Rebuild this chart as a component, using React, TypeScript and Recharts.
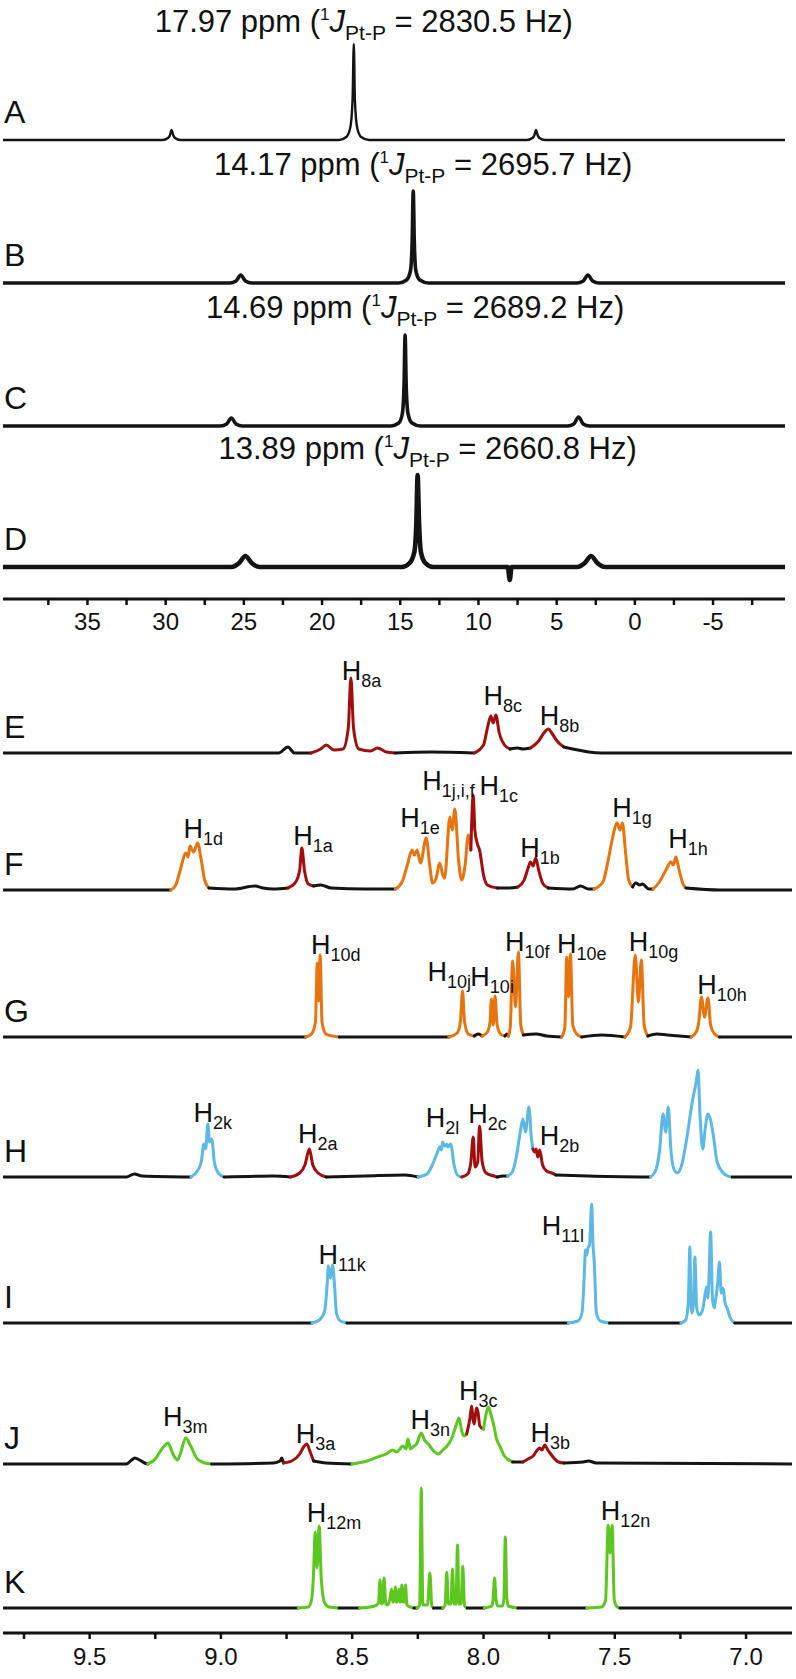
import React from 'react';
import { LineChart, Line, XAxis, YAxis, ReferenceDot } from 'recharts';

type P = [number, number, string?];

const FONT = '"Liberation Sans", Arial, Helvetica, sans-serif';

const COLORS: Record<string, string> = {
  k: '#141414',
  r: '#a10e0e',
  o: '#e8740f',
  b: '#5cb8e4',
  g: '#5dc61f',
};

// 31P spectra (ppm, intensity)
const SPEC_A: P[] = [[40.4,0],[30.2,0],[29.85,2],[29.72,5],[29.62,10],[29.52,5],[29.4,2],[29.05,0],[18.9,0],[18.45,3],[18.2,12],[18.05,40],[17.97,96],[17.9,40],[17.75,12],[17.5,3],[17.0,0],[6.9,0],[6.55,2],[6.42,5],[6.32,10],[6.22,5],[6.1,2],[5.75,0],[-9.6,0]];
const SPEC_B: P[] = [[40.4,0],[25.9,0],[25.5,2],[25.2,8],[24.9,2],[24.5,0],[15.1,0],[14.6,3],[14.35,12],[14.24,40],[14.17,92],[14.1,40],[14.0,12],[13.75,3],[13.2,0],[3.7,0],[3.3,2],[3.0,8],[2.7,2],[2.3,0],[-9.6,0]];
const SPEC_C: P[] = [[40.4,0],[26.5,0],[26.1,2],[25.8,8],[25.5,2],[25.1,0],[15.6,0],[15.1,3],[14.87,12],[14.76,40],[14.69,91],[14.62,40],[14.5,12],[14.25,3],[13.7,0],[4.3,0],[3.9,2],[3.6,9],[3.3,2],[2.9,0],[-9.6,0]];
const SPEC_D: P[] = [[40.4,0],[25.8,0],[25.3,4],[24.9,11],[24.5,4],[24.0,0],[14.9,0],[14.4,4],[14.1,15],[13.97,45],[13.89,92],[13.8,45],[13.68,15],[13.4,4],[12.9,0],[8.12,0],[8.0,-13],[7.88,0],[3.7,0],[3.2,4],[2.8,11],[2.4,4],[1.9,0],[-9.6,0]];

// 1H spectra (ppm, intensity, colour)
const SPEC_E: P[] = [[9.83,0,'k'],[8.78,0,'k'],[8.745,6,'k'],[8.72,0,'k'],[8.657,0,'r'],[8.62,4,'r'],[8.599,8,'r'],[8.57,3,'r'],[8.535,4,'r'],[8.515,25,'r'],[8.505,75,'r'],[8.495,25,'r'],[8.475,4,'r'],[8.43,2,'r'],[8.404,5,'r'],[8.37,1,'r'],[8.337,0,'k'],[8.2,1,'k'],[8.035,0,'r'],[8.0,8,'r'],[7.985,25,'r'],[7.972,37,'r'],[7.963,30,'r'],[7.953,38,'r'],[7.94,20,'r'],[7.92,8,'r'],[7.899,4,'k'],[7.87,5,'k'],[7.85,4,'k'],[7.821,5,'r'],[7.79,12,'r'],[7.77,20,'r'],[7.753,24,'r'],[7.74,20,'r'],[7.72,12,'r'],[7.694,6,'k'],[7.66,4,'k'],[7.6,1,'k'],[7.55,0,'k'],[6.825,0,'k']];
const SPEC_F: P[] = [[9.83,0,'k'],[9.191,0,'o'],[9.172,5,'o'],[9.155,20,'o'],[9.133,37,'o'],[9.125,33,'o'],[9.118,44,'o'],[9.104,38,'o'],[9.089,47,'o'],[9.075,30,'o'],[9.062,10,'o'],[9.046,2,'k'],[8.95,1,'k'],[8.87,4,'k'],[8.84,2,'k'],[8.8,1,'k'],[8.745,2,'r'],[8.715,8,'r'],[8.7,20,'r'],[8.692,42,'r'],[8.682,20,'r'],[8.667,6,'r'],[8.647,4,'k'],[8.62,5,'k'],[8.58,2,'k'],[8.45,1,'k'],[8.336,1,'o'],[8.31,8,'o'],[8.29,25,'o'],[8.272,40,'o'],[8.263,35,'o'],[8.253,40,'o'],[8.24,27,'o'],[8.218,52,'o'],[8.205,25,'o'],[8.194,7,'o'],[8.18,12,'o'],[8.167,27,'o'],[8.155,15,'o'],[8.148,12,'o'],[8.128,73,'o'],[8.119,60,'o'],[8.109,81,'o'],[8.095,30,'o'],[8.083,10,'o'],[8.07,25,'o'],[8.058,55,'o'],[8.048,40,'r'],[8.039,95,'r'],[8.033,60,'r'],[8.022,45,'r'],[8.015,40,'r'],[8.0,15,'r'],[7.985,5,'r'],[7.947,2,'k'],[7.9,2,'k'],[7.869,3,'r'],[7.845,10,'r'],[7.83,22,'r'],[7.821,28,'r'],[7.811,24,'r'],[7.801,32,'r'],[7.79,20,'r'],[7.773,6,'r'],[7.753,2,'k'],[7.66,1,'k'],[7.63,4,'k'],[7.6,1,'k'],[7.579,1,'o'],[7.545,8,'o'],[7.525,30,'o'],[7.51,50,'o'],[7.491,67,'o'],[7.48,60,'o'],[7.471,67,'o'],[7.458,35,'o'],[7.447,10,'o'],[7.432,3,'k'],[7.42,7,'k'],[7.405,5,'k'],[7.395,6,'k'],[7.37,1,'k'],[7.354,1,'o'],[7.33,8,'o'],[7.305,20,'o'],[7.286,28,'o'],[7.277,25,'o'],[7.267,33,'o'],[7.255,20,'o'],[7.24,6,'o'],[7.229,2,'k'],[7.1,0,'k'],[6.825,0,'k']];
const SPEC_G: P[] = [[9.83,0,'k'],[8.677,0,'o'],[8.655,3,'o'],[8.64,15,'o'],[8.633,74,'o'],[8.628,36,'o'],[8.622,82,'o'],[8.615,15,'o'],[8.6,3,'o'],[8.575,1,'o'],[8.549,0,'k'],[8.132,0,'o'],[8.1,4,'o'],[8.088,15,'o'],[8.08,46,'o'],[8.072,15,'o'],[8.058,3,'o'],[8.035,1,'k'],[8.02,3,'k'],[8.005,1,'o'],[7.985,5,'o'],[7.975,15,'o'],[7.97,38,'o'],[7.963,12,'o'],[7.956,41,'o'],[7.948,12,'o'],[7.935,3,'o'],[7.918,1,'k'],[7.911,3,'k'],[7.905,1,'o'],[7.898,10,'o'],[7.889,76,'o'],[7.878,30,'o'],[7.867,85,'o'],[7.858,12,'o'],[7.848,2,'k'],[7.8,3,'k'],[7.76,1,'k'],[7.702,0,'o'],[7.69,10,'o'],[7.683,80,'o'],[7.676,40,'o'],[7.669,83,'o'],[7.66,12,'o'],[7.645,3,'o'],[7.626,0,'k'],[7.55,2,'k'],[7.461,0,'o'],[7.44,10,'o'],[7.422,82,'o'],[7.41,35,'o'],[7.399,77,'o'],[7.388,12,'o'],[7.374,1,'k'],[7.34,3,'k'],[7.3,2,'k'],[7.209,0,'o'],[7.19,5,'o'],[7.18,15,'o'],[7.17,40,'o'],[7.158,20,'o'],[7.145,39,'o'],[7.135,12,'o'],[7.12,3,'o'],[7.101,0,'k'],[6.825,0,'k']];
const SPEC_H: P[] = [[9.83,0,'k'],[9.36,0,'k'],[9.33,3,'k'],[9.3,1,'k'],[9.114,0,'b'],[9.09,6,'b'],[9.075,15,'b'],[9.065,33,'b'],[9.058,28,'b'],[9.05,53,'b'],[9.043,35,'b'],[9.035,38,'b'],[9.025,15,'b'],[9.01,4,'b'],[8.988,0,'k'],[8.8,1,'k'],[8.735,0,'r'],[8.7,4,'r'],[8.68,12,'r'],[8.663,28,'r'],[8.65,12,'r'],[8.63,4,'r'],[8.599,0,'k'],[8.45,1,'k'],[8.3,2,'k'],[8.249,0,'b'],[8.215,3,'b'],[8.19,15,'b'],[8.175,25,'b'],[8.167,30,'b'],[8.16,27,'b'],[8.156,35,'b'],[8.148,31,'b'],[8.14,33,'b'],[8.136,30,'b'],[8.125,33,'b'],[8.112,12,'b'],[8.1,2,'b'],[8.083,0,'r'],[8.06,3,'r'],[8.048,15,'r'],[8.039,40,'r'],[8.032,10,'r'],[8.022,15,'r'],[8.015,51,'r'],[8.005,15,'r'],[7.99,4,'r'],[7.96,1,'r'],[7.947,0,'k'],[7.925,1,'k'],[7.908,1,'b'],[7.89,5,'b'],[7.875,20,'b'],[7.86,45,'b'],[7.85,58,'b'],[7.84,45,'b'],[7.827,70,'b'],[7.818,40,'b'],[7.812,28,'r'],[7.805,25,'r'],[7.8,28,'r'],[7.793,20,'r'],[7.786,27,'r'],[7.775,12,'r'],[7.76,6,'r'],[7.74,4,'r'],[7.724,2,'k'],[7.6,1,'k'],[7.364,0,'b'],[7.345,6,'b'],[7.33,25,'b'],[7.316,63,'b'],[7.306,45,'b'],[7.296,70,'b'],[7.287,30,'b'],[7.275,8,'b'],[7.262,4,'b'],[7.245,12,'b'],[7.225,40,'b'],[7.205,75,'b'],[7.19,95,'b'],[7.183,107,'b'],[7.175,60,'b'],[7.165,28,'b'],[7.155,50,'b'],[7.145,63,'b'],[7.135,57,'b'],[7.125,42,'b'],[7.11,15,'b'],[7.09,5,'b'],[7.07,1,'b'],[7.053,0,'k'],[6.825,0,'k']];
const SPEC_I: P[] = [[9.83,0,'k'],[8.653,0,'b'],[8.625,3,'b'],[8.605,12,'b'],[8.595,40,'b'],[8.591,57,'b'],[8.583,45,'b'],[8.575,58,'b'],[8.568,40,'b'],[8.56,10,'b'],[8.545,2,'b'],[8.52,0,'k'],[7.677,0,'b'],[7.64,2,'b'],[7.625,10,'b'],[7.615,55,'b'],[7.612,73,'b'],[7.607,68,'b'],[7.602,75,'b'],[7.596,78,'b'],[7.588,119,'b'],[7.583,80,'b'],[7.578,60,'b'],[7.57,10,'b'],[7.555,2,'b'],[7.52,0,'k'],[7.248,0,'b'],[7.23,3,'b'],[7.22,20,'b'],[7.214,76,'b'],[7.209,15,'b'],[7.205,10,'b'],[7.2,20,'b'],[7.195,66,'b'],[7.188,15,'b'],[7.179,8,'b'],[7.17,10,'b'],[7.164,15,'b'],[7.155,30,'b'],[7.15,36,'b'],[7.146,25,'b'],[7.142,40,'b'],[7.135,91,'b'],[7.128,25,'b'],[7.121,15,'b'],[7.115,25,'b'],[7.108,40,'b'],[7.101,61,'b'],[7.095,30,'b'],[7.09,35,'b'],[7.086,33,'b'],[7.08,20,'b'],[7.072,15,'b'],[7.06,5,'b'],[7.043,0,'k'],[6.825,0,'k']];
const SPEC_J: P[] = [[9.83,0,'k'],[9.36,0,'k'],[9.34,4,'k'],[9.328,6,'k'],[9.31,4,'k'],[9.29,1,'k'],[9.279,0,'g'],[9.25,5,'g'],[9.225,15,'g'],[9.201,21,'g'],[9.186,12,'g'],[9.166,4,'g'],[9.155,10,'g'],[9.134,26,'g'],[9.115,18,'g'],[9.09,5,'g'],[9.06,1,'g'],[9.036,0,'k'],[8.8,1,'k'],[8.775,3,'k'],[8.768,6,'k'],[8.762,1,'r'],[8.73,3,'r'],[8.7,10,'r'],[8.685,17,'r'],[8.673,20,'r'],[8.66,12,'r'],[8.647,3,'k'],[8.6,1,'k'],[8.501,0,'g'],[8.443,3,'g'],[8.393,8,'g'],[8.37,10,'g'],[8.346,14,'g'],[8.33,12,'g'],[8.307,18,'g'],[8.295,15,'g'],[8.288,25,'g'],[8.278,15,'g'],[8.269,17,'g'],[8.255,20,'g'],[8.237,31,'g'],[8.225,24,'g'],[8.21,20,'g'],[8.19,13,'g'],[8.171,10,'g'],[8.155,14,'g'],[8.142,17,'g'],[8.122,25,'g'],[8.105,38,'g'],[8.093,46,'g'],[8.082,32,'g'],[8.074,28,'g'],[8.064,30,'r'],[8.052,45,'r'],[8.045,58,'r'],[8.04,45,'r'],[8.035,40,'r'],[8.027,56,'r'],[8.021,52,'r'],[8.014,38,'r'],[8.0,35,'g'],[7.99,50,'g'],[7.981,57,'g'],[7.97,48,'g'],[7.962,40,'g'],[7.95,25,'g'],[7.938,18,'g'],[7.92,8,'g'],[7.909,5,'g'],[7.889,2,'k'],[7.87,2,'k'],[7.85,2,'r'],[7.83,5,'r'],[7.811,8,'r'],[7.795,14,'r'],[7.786,16,'r'],[7.777,14,'r'],[7.767,19,'r'],[7.755,14,'r'],[7.744,10,'r'],[7.725,4,'r'],[7.714,2,'r'],[7.694,1,'k'],[7.62,2,'k'],[7.6,3,'k'],[7.57,1,'k'],[6.825,0,'k']];
const SPEC_K: P[] = [[9.83,0,'k'],[8.706,0,'g'],[8.667,1,'g'],[8.655,8,'g'],[8.648,30,'g'],[8.641,76,'g'],[8.634,40,'g'],[8.626,82,'g'],[8.618,30,'g'],[8.605,5,'g'],[8.588,1,'g'],[8.55,0,'k'],[8.472,0,'g'],[8.414,2,'g'],[8.4,5,'g'],[8.394,28,'g'],[8.389,4,'g'],[8.384,5,'g'],[8.379,30,'g'],[8.372,4,'g'],[8.365,3,'g'],[8.357,8,'g'],[8.35,19,'g'],[8.346,6,'g'],[8.342,6,'g'],[8.336,21,'g'],[8.332,6,'g'],[8.328,6,'g'],[8.322,19,'g'],[8.319,6,'g'],[8.315,6,'g'],[8.311,23,'g'],[8.306,6,'g'],[8.302,6,'g'],[8.297,23,'g'],[8.292,4,'g'],[8.288,2,'g'],[8.265,0,'k'],[8.253,0,'g'],[8.243,3,'g'],[8.237,120,'g'],[8.231,3,'g'],[8.213,3,'g'],[8.204,35,'g'],[8.197,2,'g'],[8.19,0,'k'],[8.155,0,'g'],[8.146,3,'g'],[8.14,36,'g'],[8.134,4,'g'],[8.124,4,'g'],[8.118,39,'g'],[8.112,4,'g'],[8.105,4,'g'],[8.099,63,'g'],[8.093,4,'g'],[8.085,4,'g'],[8.079,42,'g'],[8.072,2,'g'],[8.062,0,'k'],[7.997,0,'g'],[7.968,2,'g'],[7.963,10,'g'],[7.958,30,'g'],[7.952,8,'g'],[7.946,2,'g'],[7.928,2,'g'],[7.922,10,'g'],[7.917,71,'g'],[7.911,10,'g'],[7.905,2,'g'],[7.869,0,'k'],[7.607,0,'g'],[7.55,1,'g'],[7.535,8,'g'],[7.525,83,'g'],[7.518,55,'g'],[7.51,83,'g'],[7.502,8,'g'],[7.49,1,'g'],[7.48,0,'k'],[6.825,0,'k']];

// peak labels: ppm of label start, height above baseline, subscript
const LABELS_E: [number, number, string][] = [[8.54,73,'8a'],[8.0,48,'8c'],[7.786,28,'8b']];
const LABELS_F: [number, number, string][] = [[9.143,52,'1d'],[8.725,45,'1a'],[8.317,63,'1e'],[8.233,100,'1j,i,f'],[8.015,95,'1c'],[7.86,33,'1b'],[7.51,73,'1g'],[7.296,42,'1h']];
const LABELS_G: [number, number, string][] = [[8.657,83,'10d'],[8.213,56,'10j'],[8.05,51,'10i'],[7.918,86,'10f'],[7.72,84,'10e'],[7.447,86,'10g'],[7.186,43,'10h']];
const LABELS_H: [number, number, string][] = [[9.104,55,'2k'],[8.706,34,'2a'],[8.22,50,'2l'],[8.058,54,'2c'],[7.786,32,'2b']];
const LABELS_I: [number, number, string][] = [[8.628,59,'11k'],[7.778,88,'11l']];
const LABELS_J: [number, number, string][] = [[9.221,38,'3m'],[8.715,21,'3a'],[8.278,35,'3n'],[8.093,64,'3c'],[7.821,22,'3b']];
const LABELS_K: [number, number, string][] = [[8.673,86,'12m'],[7.553,88,'12n']];

const TITLE_PPM = ['17.97', '14.17', '14.69', '13.89'];
const TITLE_HZ = ['2830.5', '2695.7', '2689.2', '2660.8'];
const TITLE_AT = [17.97, 14.17, 14.69, 13.89];

const TOP_TICKS = [37.5, 35, 32.5, 30, 27.5, 25, 22.5, 20, 17.5, 15, 12.5, 10, 7.5, 5, 2.5, 0, -2.5, -5, -7.5];
const TOP_MAJOR = [35, 30, 25, 20, 15, 10, 5, 0, -5];
const BOT_TICKS = [9.75, 9.5, 9.25, 9.0, 8.75, 8.5, 8.25, 8.0, 7.75, 7.5, 7.25, 7.0];
const BOT_MAJOR = [9.5, 9.0, 8.5, 8.0, 7.5, 7.0];

function splitSegments(pts: P[]) {
  const segs: { c: string; data: { x: number; y: number }[] }[] = [];
  let cur: { c: string; data: { x: number; y: number }[] } | null = null;
  for (const [x, y, c = 'k'] of pts) {
    if (!cur || cur.c !== c) {
      if (cur) cur.data.push({ x, y });
      cur = { c, data: [] };
      segs.push(cur);
    }
    cur.data.push({ x, y });
  }
  return segs;
}

const HLabel = (sub: string) => (p: any) => (
  <text x={p.cx} y={p.cy} fontFamily={FONT} fill="#111" fontSize={27}>
    H<tspan fontSize={18} dy={7}>{sub}</tspan>
  </text>
);

const Letter = (letter: string) => (p: any) => (
  <text x={p.cx + 1} y={p.cy} fontFamily={FONT} fill="#111" fontSize={32}>
    {letter}
  </text>
);

const Title = (i: number) => (p: any) => (
  <text x={p.cx + 10} y={p.cy} textAnchor="middle" fontFamily={FONT} fill="#111" fontSize={31}>
    {TITLE_PPM[i]} ppm (<tspan fontSize={17} dy={-12}>1</tspan>
    <tspan fontStyle="italic" dy={12}>J</tspan>
    <tspan fontSize={21} dy={8}>Pt-P</tspan>
    <tspan dy={-8}> = {TITLE_HZ[i]} Hz)</tspan>
  </text>
);

interface RowProps {
  top: number;
  pts: P[];
  domain: [number, number];
  right: number;
  below: number;
  strokeWidth: number;
  letter: string;
  letterY: number;
  labels?: [number, number, string][];
  title?: number;
  axis?: 'top' | 'bottom';
}

const ABOVE = 150;

function SpectrumRow({ top, pts, domain, right, below, strokeWidth, letter, letterY, labels, title, axis }: RowProps) {
  const segs = splitSegments(pts);
  const axisH = axis ? 50 : 0;
  const height = ABOVE + below + axisH;
  const isTop = axis === 'top';
  const ticks = axis === 'bottom' ? BOT_TICKS : TOP_TICKS;
  return (
    <div style={{ position: 'absolute', left: 0, top: top - ABOVE }}>
      <LineChart width={796} height={height} margin={{ top: 0, right, bottom: 0, left: 3 }}>
        <XAxis
          dataKey="x"
          type="number"
          domain={domain}
          reversed
          allowDataOverflow
          hide={!axis}
          height={axisH}
          ticks={ticks}
          interval={0}
          tickSize={6}
          tickMargin={isTop ? 8 : 9}
          axisLine={{ stroke: '#111', strokeWidth: 3 }}
          tickLine={{ stroke: '#111', strokeWidth: 2.5 }}
          tick={{ fontSize: 24, fill: '#111', fontFamily: FONT }}
          tickFormatter={(v: number) =>
            axis === 'bottom'
              ? BOT_MAJOR.includes(v) ? v.toFixed(1) : ''
              : TOP_MAJOR.includes(v) ? String(v) : ''
          }
        />
        <YAxis hide type="number" domain={[-below, ABOVE]} allowDataOverflow />
        {segs.map((s, i) => (
          <Line
            key={i}
            data={s.data}
            dataKey="y"
            type="monotone"
            stroke={COLORS[s.c]}
            strokeWidth={strokeWidth}
            strokeLinejoin="round"
            strokeLinecap="round"
            dot={false}
            activeDot={false}
            isAnimationActive={false}
          />
        ))}
        <ReferenceDot x={domain[1]} y={letterY} r={0} shape={Letter(letter)} />
        {title !== undefined && (
          <ReferenceDot x={TITLE_AT[title]} y={108} r={0} shape={Title(title)} />
        )}
        {(labels || []).map(([x, y, sub]) => (
          <ReferenceDot key={sub} x={x} y={y} r={0} shape={HLabel(sub)} />
        ))}
      </LineChart>
    </div>
  );
}

const TOP_DOMAIN: [number, number] = [-9.6, 40.4];
const BOT_DOMAIN: [number, number] = [6.825, 9.83];

export default function App() {
  const topRows = [
    { letter: 'A', pts: SPEC_A, base: 140, sw: 2.4 },
    { letter: 'B', pts: SPEC_B, base: 283, sw: 3.6 },
    { letter: 'C', pts: SPEC_C, base: 426, sw: 3.6 },
    { letter: 'D', pts: SPEC_D, base: 567, sw: 4.6 },
  ];
  const botRows = [
    { letter: 'E', pts: SPEC_E, base: 753, labels: LABELS_E },
    { letter: 'F', pts: SPEC_F, base: 890, labels: LABELS_F },
    { letter: 'G', pts: SPEC_G, base: 1037, labels: LABELS_G },
    { letter: 'H', pts: SPEC_H, base: 1177, labels: LABELS_H },
    { letter: 'I', pts: SPEC_I, base: 1323, labels: LABELS_I },
    { letter: 'J', pts: SPEC_J, base: 1464, labels: LABELS_J },
    { letter: 'K', pts: SPEC_K, base: 1608, labels: LABELS_K },
  ];
  return (
    <div style={{ position: 'absolute', left: 0, top: 0, width: 796, height: 1679, background: '#fff' }}>
      {topRows.map((r, i) => (
        <SpectrumRow
          key={r.letter}
          top={r.base}
          pts={r.pts}
          domain={TOP_DOMAIN}
          right={11}
          below={32}
          strokeWidth={r.sw}
          letter={r.letter}
          letterY={17}
          title={i}
          axis={i === 3 ? 'top' : undefined}
        />
      ))}
      {botRows.map((r, i) => (
        <SpectrumRow
          key={r.letter}
          top={r.base}
          pts={r.pts}
          domain={BOT_DOMAIN}
          right={4}
          below={25}
          strokeWidth={3}
          letter={r.letter}
          letterY={15}
          labels={r.labels}
          axis={i === 6 ? 'bottom' : undefined}
        />
      ))}
    </div>
  );
}
